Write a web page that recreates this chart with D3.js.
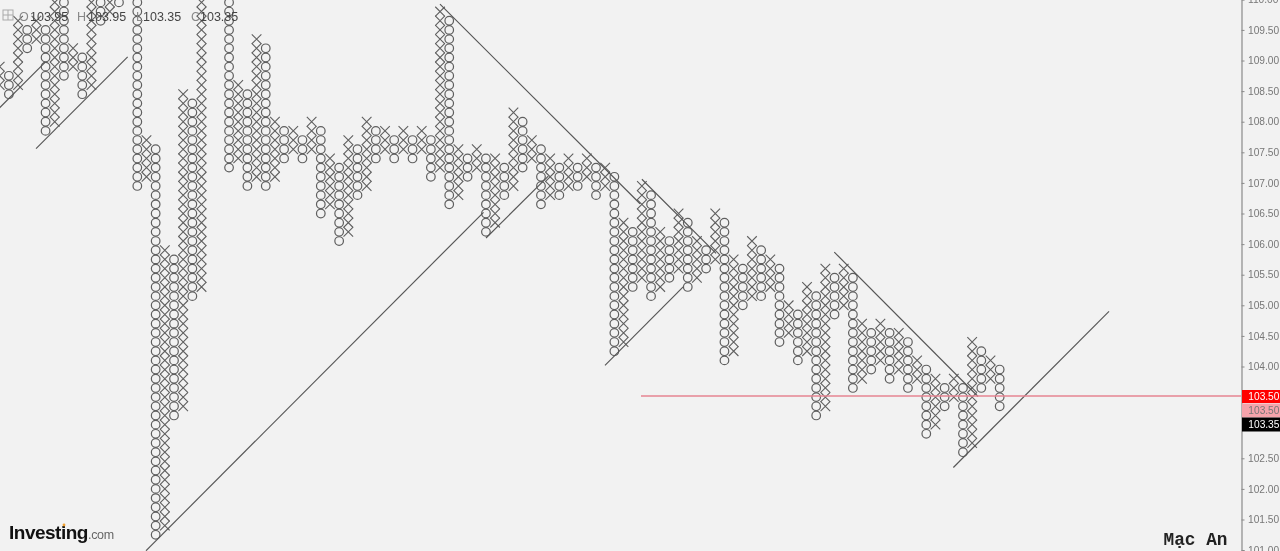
<!DOCTYPE html>
<html><head><meta charset="utf-8">
<script src="https://cdn.jsdelivr.net/npm/d3@7/dist/d3.min.js"></script>
<style>
html,body{margin:0;padding:0;background:#f2f2f2;overflow:hidden}
svg{display:block;filter:blur(0.4px)}
text{font-family:"Liberation Sans",Arial,sans-serif}
</style></head><body>
<svg id="c" width="1280" height="551"></svg>
<script>
// Point & figure columns, visible range begins at column 0
const columnTypes = "XOXOXOXOXOXOXOXOXOXOXOXOXOXOXOXOXOXOXOXOXOXOXOXOXOXOXOXOXOXOXOXOXOXOXOXOXOXOXOXOXOXOXOXOXOXOXOXOXOXOXOXOXOXOXO".split("");
const columnLows = [
108.60,108.45,108.60,109.20,109.35,107.85,108.00,108.75,108.90,108.45,
108.60,109.65,109.80,109.95,110.10,106.95,107.10,101.25,101.40,103.20,
103.35,105.15,105.30,110.25,110.40,107.25,107.40,106.95,107.10,106.95,
107.10,107.40,107.55,107.40,107.55,106.50,106.65,106.05,106.20,106.80,
106.95,107.40,107.55,107.40,107.55,107.40,107.55,107.10,107.25,106.65,
106.80,107.10,107.25,106.20,106.35,106.80,106.95,107.25,107.40,106.65,
106.80,106.80,106.95,106.95,107.10,106.80,106.95,104.25,104.40,105.30,
105.45,105.15,105.30,105.45,105.60,105.30,105.45,105.60,105.75,104.10,
104.25,105.00,105.15,105.15,105.30,104.40,104.55,104.10,104.25,103.20,
103.35,104.85,105.00,103.65,103.80,103.95,104.10,103.80,103.95,103.65,
103.80,102.90,103.05,103.35,103.50,102.60,102.75,103.65,103.80,103.35];
const columnHighs = [
108.90,108.75,109.65,109.50,109.65,109.50,110.10,109.95,109.20,109.05,
110.10,109.95,110.40,110.25,111.00,110.85,107.70,107.55,105.90,105.75,
108.45,108.30,110.85,110.70,111.00,110.85,108.60,108.45,109.35,109.20,
108.00,107.85,107.85,107.70,108.00,107.85,107.40,107.25,107.70,107.55,
108.00,107.85,107.85,107.70,107.85,107.70,107.85,107.70,109.80,109.65,
107.55,107.40,107.55,107.40,107.40,107.25,108.15,108.00,107.70,107.55,
107.40,107.25,107.40,107.25,107.40,107.25,107.25,107.10,106.35,106.20,
106.95,106.80,106.20,106.05,106.50,106.35,106.05,105.90,106.50,106.35,
105.75,105.60,106.05,105.90,105.75,105.60,105.00,104.85,105.30,105.15,
105.60,105.45,105.60,105.45,104.70,104.55,104.70,104.55,104.55,104.40,
104.10,103.95,103.80,103.65,103.80,103.65,104.40,104.25,104.10,103.95];
// Trend lines: [column, price, column, price]
const trendLines = [
[-0.2,108.20,4.94,108.97],
[3.96,107.56,13.95,109.06],
[15.95,100.99,52.74,106.52],
[47.99,109.92,69.80,106.66],
[70.00,107.06,78.08,105.85],
[53.01,106.10,59.80,107.11],
[65.98,104.02,74.50,105.30],
[90.97,105.87,106.64,103.51],
[103.95,102.35,120.92,104.90]];
const axisTicks = [101,101.5,102,102.5,104,104.5,105,105.5,106,106.5,107,107.5,108,108.5,109,109.5,110];
const horizontalLevel = 103.52;
const horizontalStartColumn = 69.9;
const priceTags = ["103.50","103.50","103.35"];
const ohlcNames = ["O","H","L","C"];
const ohlcValues = ["103.95","103.95","103.35","103.35"];

const svg = d3.select("#c");
const x = d3.scaleLinear().domain([0,94]).range([-0.3,862.06]);
const y = d3.scaleLinear().domain([101,110]).range([550.1,-0.68]);
const boxSize = 0.15;
const ink = "#5f5f5f";

// columns
const cols = columnTypes.map((t,i)=>{
  const n = Math.round((columnHighs[i]-columnLows[i])/boxSize);
  return {t,i,boxes:d3.range(n+1).map(j=>columnLows[i]+j*boxSize)};
});
const g = svg.append("g");
const colG = g.selectAll("g.col").data(cols).join("g").attr("transform",d=>`translate(${x(d.i)},0)`);
colG.filter(d=>d.t==="O").selectAll("circle").data(d=>d.boxes).join("circle")
  .attr("cy",p=>y(p)).attr("r",4.3).attr("fill","none").attr("stroke",ink).attr("stroke-width",1.2);
colG.filter(d=>d.t==="X").selectAll("path").data(d=>d.boxes).join("path")
  .attr("d",p=>{const c=y(p),r=4.8;return `M${-r},${c-r}L${r},${c+r}M${-r},${c+r}L${r},${c-r}`;})
  .attr("fill","none").attr("stroke",ink).attr("stroke-width",1.1);

// trend lines
g.selectAll("line.trend").data(trendLines).join("line")
  .attr("x1",d=>x(d[0])).attr("y1",d=>y(d[1])).attr("x2",d=>x(d[2])).attr("y2",d=>y(d[3]))
  .attr("stroke","#555").attr("stroke-width",1.15);

// header
svg.append("rect").attr("x",3).attr("y",10).attr("width",10).attr("height",10).attr("fill","none").attr("stroke","#aaa").attr("stroke-width",1);
svg.append("path").attr("d","M8,10V20M3,15H13").attr("stroke","#aaa").attr("stroke-width",1);
const nameX=[19,77,136,191], valX=[30,88,143,200];
ohlcNames.forEach((n,i)=>{
  svg.append("text").attr("x",nameX[i]).attr("y",21).attr("font-size",12.5).attr("fill","#888").text(n);
  svg.append("text").attr("x",valX[i]).attr("y",21).attr("font-size",12.5).attr("fill","#444").text(ohlcValues[i]);
});

// axis
const axisX = 1241.5;
const ax = d3.axisRight(y).tickValues(axisTicks).tickFormat(d3.format(".2f")).tickSize(3).tickPadding(3.5);
const axG = svg.append("g").attr("transform",`translate(${axisX},0)`).call(ax);
axG.select(".domain").attr("stroke","#8a8a8a").attr("stroke-width",1.2);
axG.selectAll(".tick line").attr("stroke","#8a8a8a");
axG.selectAll(".tick text").attr("fill","#777").attr("font-size",10.2).attr("font-family","Liberation Sans");

// horizontal level
svg.append("line").attr("x1",x(horizontalStartColumn)).attr("x2",axisX).attr("y1",y(horizontalLevel)).attr("y2",y(horizontalLevel))
  .attr("stroke","#e68592").attr("stroke-width",1.5);

// price tags
const tagTop=[390,403.5,417.5], tagH=[13,14,14], tagFill=["#ff0000","#f5a3ab","#000000"], tagInk=["#fff","#777","#fff"];
priceTags.forEach((t,i)=>{
  svg.append("rect").attr("x",1242).attr("y",tagTop[i]).attr("width",38).attr("height",tagH[i]).attr("fill",tagFill[i]);
  svg.append("text").attr("x",1248.3).attr("y",tagTop[i]+tagH[i]/2+3.6).attr("font-size",10.2).attr("fill",tagInk[i]).text(t);
});

// logo
svg.append("text").attr("x",9).attr("y",538.5).attr("font-size",19).attr("font-weight",700).attr("letter-spacing",-0.5).attr("fill","#111").text("Investing");
svg.append("text").attr("x",88).attr("y",538.5).attr("font-size",12.5).attr("letter-spacing",-0.3).attr("fill","#666").text(".com");
svg.append("circle").attr("cx",64).attr("cy",525).attr("r",1.4).attr("fill","#f0a030");

// signature
svg.append("text").attr("x",1163.5).attr("y",545).attr("font-size",17.8).attr("font-weight",700).style("font-family","Liberation Mono").attr("fill","#222").text("Mạc An");
</script>
</body></html>
